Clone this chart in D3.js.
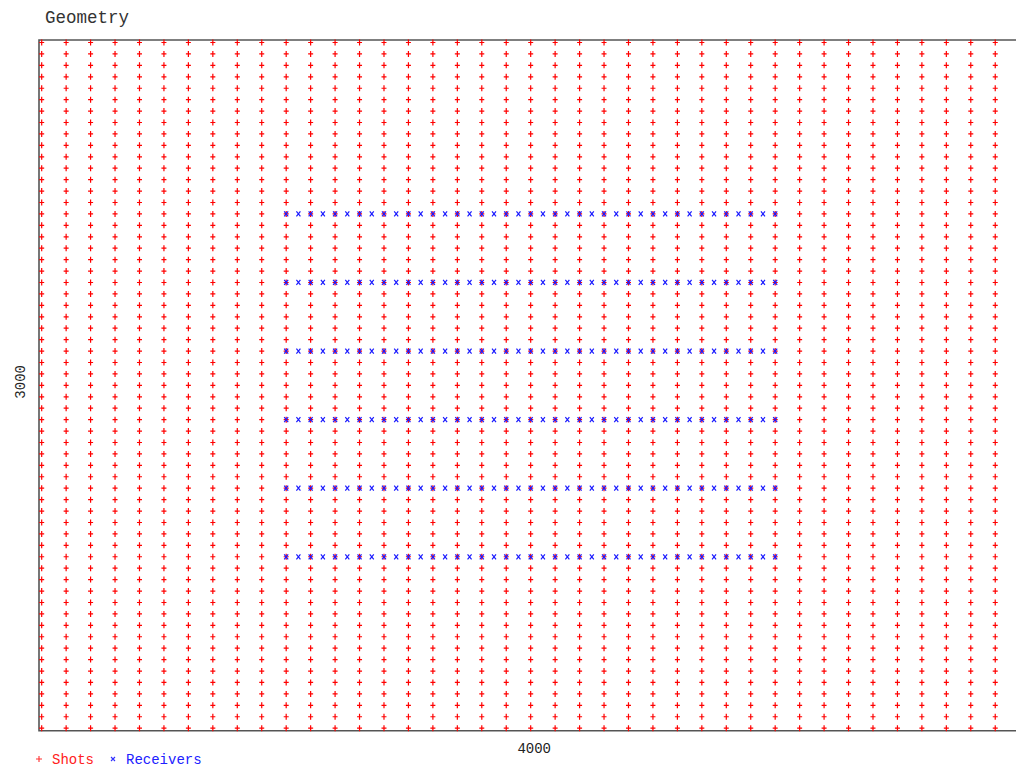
<!DOCTYPE html>
<html>
<head>
<meta charset="utf-8">
<script src="https://cdn.jsdelivr.net/npm/d3@7"></script>
<style>
  body { margin: 0; background: #fff; }
  svg { display: block; }
</style>
</head>
<body>
<div id="chart"></div>
<script>
// shot grid (x of shot lines, y of shot stations)
const shotX = [3000, 3050, 3100, 3150, 3200, 3250, 3300, 3350, 3400, 3450,
  3500, 3550, 3600, 3650, 3700, 3750, 3800, 3850, 3900, 3950,
  4000, 4050, 4100, 4150, 4200, 4250, 4300, 4350, 4400, 4450,
  4500, 4550, 4600, 4650, 4700, 4750, 4800, 4850, 4900, 4950];
const shotY = [1500, 1550, 1600, 1650, 1700, 1750, 1800, 1850, 1900, 1950,
  2000, 2050, 2100, 2150, 2200, 2250, 2300, 2350, 2400, 2450,
  2500, 2550, 2600, 2650, 2700, 2750, 2800, 2850, 2900, 2950,
  3000, 3050, 3100, 3150, 3200, 3250, 3300, 3350, 3400, 3450,
  3500, 3550, 3600, 3650, 3700, 3750, 3800, 3850, 3900, 3950,
  4000, 4050, 4100, 4150, 4200, 4250, 4300, 4350, 4400, 4450, 4500];
// receiver lines (y) and receiver stations along each line (x)
const receiverY = [2250, 2550, 2850, 3150, 3450, 3750];
const receiverX = [3500, 3525, 3550, 3575, 3600, 3625, 3650, 3675, 3700, 3725,
  3750, 3775, 3800, 3825, 3850, 3875, 3900, 3925, 3950, 3975,
  4000, 4025, 4050, 4075, 4100, 4125, 4150, 4175, 4200, 4225,
  4250, 4275, 4300, 4325, 4350, 4375, 4400, 4425, 4450, 4475, 4500];
const xTicks = [4000];
const yTicks = [3000];
const legendLabels = ["Shots", "Receivers"];

const width = 1016;
const height = 773;
const frame = { left: 39, top: 40, right: 1028, bottom: 730.7 };
const mono = "'Liberation Mono', 'DejaVu Sans Mono', monospace";

const svg = d3.select("#chart").append("svg")
  .attr("width", width)
  .attr("height", height);

const x = d3.scaleLinear().domain([2994.5, 5017]).range([frame.left, frame.right]);
const y = d3.scaleLinear().domain([1489, 4511]).range([frame.bottom, frame.top]);

// title
svg.append("text")
  .attr("x", 45)
  .attr("y", 23)
  .attr("font-family", mono)
  .attr("font-size", "17.5px")
  .attr("fill", "#333")
  .text("Geometry");

// frame (right side runs off the page)
svg.append("path")
  .attr("d", "M" + frame.right + "," + frame.top + "H" + frame.left +
    "V" + frame.bottom + "H" + frame.right)
  .attr("fill", "none")
  .attr("stroke", "#555")
  .attr("stroke-width", 1.6);

// shots
const shots = [];
shotX.forEach(function(sx) {
  shotY.forEach(function(sy) { shots.push([sx, sy]); });
});
svg.append("g")
  .selectAll("path")
  .data(shots)
  .enter()
  .append("path")
  .attr("transform", function(d) {
    return "translate(" + x(d[0]) + "," + y(d[1]) + ")";
  })
  .attr("d", "M-2.5,0H2.5M0,-3V3")
  .attr("stroke", "#ff0000")
  .attr("stroke-width", 1.2)
  .attr("fill", "none");

// receivers
const receivers = [];
receiverY.forEach(function(ry) {
  receiverX.forEach(function(rx) { receivers.push([rx, ry]); });
});
svg.append("g")
  .selectAll("path")
  .data(receivers)
  .enter()
  .append("path")
  .attr("transform", function(d) {
    return "translate(" + x(d[0]) + "," + y(d[1]) + ")";
  })
  .attr("d", "M-2,-2.5L2,2.5M2,-2.5L-2,2.5")
  .attr("stroke", "#1a1aff")
  .attr("stroke-width", 1.2)
  .attr("fill", "none");

// axes: labels only
const xAxis = svg.append("g")
  .attr("transform", "translate(0," + frame.bottom + ")")
  .call(d3.axisBottom(x).tickValues(xTicks).tickSize(0).tickFormat(d3.format("d")));
xAxis.select(".domain").remove();
xAxis.selectAll("text")
  .attr("x", 3)
  .attr("y", 22)
  .attr("dy", 0)
  .attr("font-family", mono)
  .attr("font-size", "14px")
  .attr("fill", "#222");

const yAxis = svg.append("g")
  .attr("transform", "translate(" + frame.left + ",0)")
  .call(d3.axisLeft(y).tickValues(yTicks).tickSize(0).tickFormat(d3.format("d")));
yAxis.select(".domain").remove();
yAxis.selectAll(".tick text")
  .attr("x", 0)
  .attr("dy", 0)
  .attr("text-anchor", "middle")
  .attr("transform", "translate(-14,-4) rotate(-90)")
  .attr("font-family", mono)
  .attr("font-size", "14px")
  .attr("fill", "#222");

// legend
const legend = svg.append("g").attr("font-family", mono).attr("font-size", "14px");
legend.append("path")
  .attr("d", "M36,759H42M39,756V762")
  .attr("stroke", "#ff3030")
  .attr("stroke-width", 1.1);
legend.append("text")
  .attr("x", 52).attr("y", 764)
  .attr("fill", "#ff2020")
  .text(legendLabels[0]);
legend.append("path")
  .attr("d", "M111,757L115,761M115,757L111,761")
  .attr("stroke", "#3030ff")
  .attr("stroke-width", 1.1);
legend.append("text")
  .attr("x", 126).attr("y", 764)
  .attr("fill", "#2020ff")
  .text(legendLabels[1]);
</script>
</body>
</html>
